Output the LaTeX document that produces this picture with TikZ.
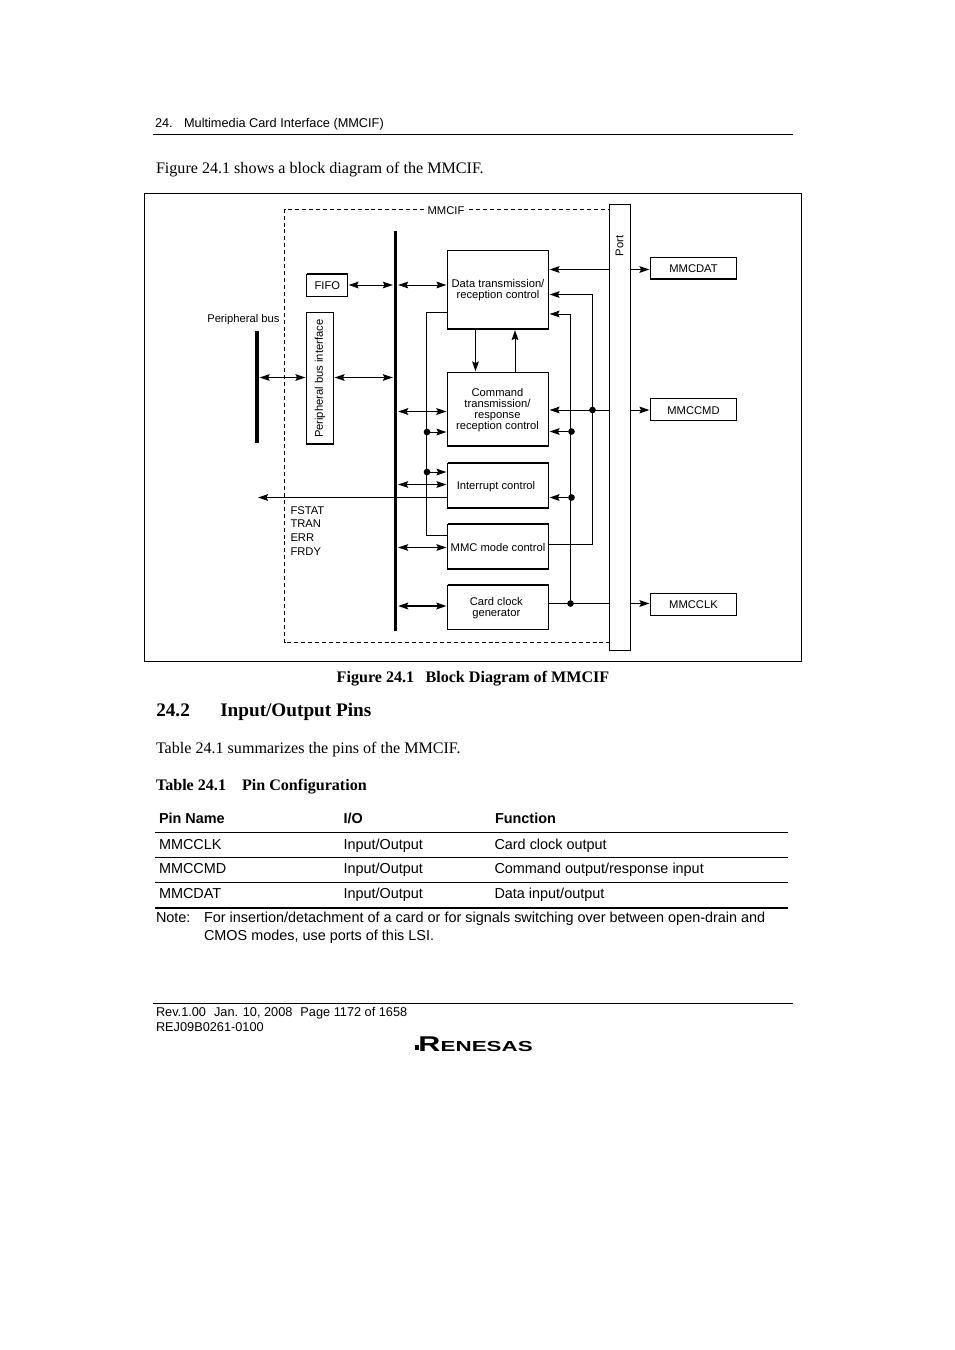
\documentclass[tikz,border=0pt]{standalone}
\usepackage{fontspec}
\setmainfont{Liberation Serif}
\newfontfamily\hv{Liberation Sans}
\usetikzlibrary{arrows.meta}
\tikzset{
  x=.75pt,y=-.75pt,
  lw/.style={line width=.75pt},
  blk/.style={draw=black,lw,rectangle,inner sep=0pt,outer sep=0pt,fill=white},
  bar/.style={fill=black,rectangle,inner sep=0pt,outer sep=0pt,minimum width=2.4pt},
  dotn/.style={fill=black,circle,inner sep=0pt,outer sep=0pt,minimum size=5pt},
  dlab/.style={font=\hv\fontsize{8.4}{8.3}\selectfont,inner sep=0pt,outer sep=0pt,align=center},
  sig/.style={lw,shorten >=.8pt},
  one/.style={sig,-{Stealth[length=7.5pt,width=5pt,inset=1.2pt]}},
  two/.style={lw,shorten >=.8pt,shorten <=.8pt,{Stealth[length=7.5pt,width=5pt,inset=1.2pt]}-{Stealth[length=7.5pt,width=5pt,inset=1.2pt]}},
  twoh/.style={two,line width=1.3pt},
  body/.style={font=\fontsize{12.07}{14}\selectfont,inner sep=0pt,outer sep=0pt,anchor=base west},
  bodyb/.style={font=\bfseries\fontsize{12.07}{14}\selectfont,inner sep=0pt,outer sep=0pt,anchor=base west},
  sans/.style={font=\hv\fontsize{10.82}{13}\selectfont,inner sep=0pt,outer sep=0pt,anchor=base west},
  sansb/.style={font=\hv\bfseries\fontsize{10.82}{13}\selectfont,inner sep=0pt,outer sep=0pt,anchor=base west},
  small/.style={font=\hv\fontsize{9.56}{11}\selectfont,inner sep=0pt,outer sep=0pt,anchor=base west},
  rule/.style={line width=.75pt},
  heavy/.style={line width=1.05pt},
}
\newcommand{\bx}[7]{% name x0 y0 x1 y1 text text-xshift
  \node[blk,minimum width={(#4-#2)*.75pt},minimum height={(#5-#3)*.75pt}] (#1) at ({(#2+#4)/2},{(#3+#5)/2}) {};
  \node[dlab] (#1t) at ([xshift=#7,yshift=-.6pt]#1.center) {#6};}
\begin{document}
\begin{tikzpicture}
\useasboundingbox (0,0) rectangle (954,1350);
% page furniture
\node[small] (hdr) at (155,127) {24.\hspace{8.5pt}Multimedia Card Interface (MMCIF)};
\draw[rule] (153,134.5) -- (793,134.5);
\node[body] (intro) at (156,173) {Figure 24.1 shows a block diagram of the MMCIF.};
% frame
\draw[lw] (144.5,193.5) rectangle (801.5,661.5);
% dashed boundary
\coordinate (dtl) at (284.5,209.5);
\coordinate (dbl) at (284.5,642.5);
\draw[lw,dash pattern=on 3pt off 2.2pt] (424,209.5) -- (dtl) -- (dbl) -- (609,642.5);
\draw[lw,dash pattern=on 3pt off 2.2pt] (469,209.5) -- (609,209.5);
\node[dlab] (mmcif) at (446,210.7) {MMCIF};
% bars
\node[bar,minimum height=300pt] (bus) at (395.5,431) {};
\node[bar,minimum height=84pt] (pbus) at (257,387) {};
\node[dlab,anchor=base east] (pblab) at (279.5,322) {Peripheral bus};
% blocks
\bx{fifo}{306.5}{274}{347.5}{296.5}{FIFO}{.3pt}
\bx{pbi}{306.5}{312}{333.5}{444}{\rotatebox{90}{Peripheral bus interface}}{0pt}
\bx{data}{447.5}{250.5}{548.5}{329}{Data transmission/\\reception control}{0pt}
\bx{cmd}{447.5}{372.5}{548.5}{446}{Command\\transmission/\\response\\reception control}{-.4pt}
\bx{intr}{447.5}{463}{548.5}{508}{Interrupt control}{-1.5pt}
\bx{mode}{447.5}{524}{548.5}{569}{MMC mode control}{0pt}
\bx{clk}{447.5}{585}{548.5}{629}{Card clock\\generator}{-1.3pt}
\bx{port}{609.5}{204.5}{630.5}{650}{}{0pt}
\node[dlab,rotate=90] (portlab) at (619.5,246) {Port};
\bx{pdat}{650.5}{257.5}{736.5}{279}{MMCDAT}{0pt}
\bx{pcmd}{650.5}{398.5}{736.5}{420.5}{MMCCMD}{0pt}
\bx{pclk}{650.5}{593.5}{736.5}{615}{MMCCLK}{0pt}
% heavier edges
\foreach \n in {data,cmd,intr,mode,fifo,pbi,pdat}{\draw[heavy] (\n.south west) -- (\n.south east);}
\foreach \n in {intr,mode,clk,fifo,pdat}{\draw[heavy] (\n.north west) -- (\n.north east);}
\draw[heavy] (pbi.north east) -- (pbi.south east);
% dots
\node[dotn] (a1) at (427,432) {};
\node[dotn] (a2) at (427,472) {};
\node[dotn] (b1) at (592.5,410) {};
\node[dotn] (c1) at (571.5,431.5) {};
\node[dotn] (c2) at (571.5,497.5) {};
\node[dotn] (c3) at (570.5,603.5) {};
% bus arrows left
\draw[two] (fifo.east |- 0,285) -- (bus.west |- 0,285);
\draw[two] (bus.east |- 0,285) -- (data.west |- 0,285);
\draw[two] (pbus.east |- 0,377.5) -- (pbi.west |- 0,377.5);
\draw[two] (pbi.east |- 0,377.5) -- (bus.west |- 0,377.5);
\draw[twoh] (bus.east |- 0,411.5) -- (cmd.west |- 0,411.5);
\draw[two] (bus.east |- 0,484.5) -- (intr.west |- 0,484.5);
\draw[two] (bus.east |- 0,547.5) -- (mode.west |- 0,547.5);
\draw[twoh] (bus.east |- 0,606) -- (clk.west |- 0,606);
% status out
\coordinate (fout) at (257,497.5);
\draw[one] (intr.west |- 0,497.5) -- (fout);
\node[dlab,anchor=base west] (flags) at (290.5,514) {FSTAT};
\node[dlab,anchor=base west] (f2) at (290.5,527) {TRAN};
\node[dlab,anchor=base west] (f3) at (290.5,541) {ERR};
\node[dlab,anchor=base west] (f4) at (290.5,555) {FRDY};
% internal mode bus
\draw[lw] (data.west |- 0,312.5) -- (426.5,312.5) -- (426.5,535.5) -- (mode.west |- 0,535.5);
\draw[one] (a1) -- (cmd.west |- a1);
\draw[one] (a2) -- (intr.west |- a2);
% data <-> cmd
\draw[one] (data.south -| 475.5,0) -- (cmd.north -| 475.5,0);
\draw[one] (cmd.north -| 515,0) -- (data.south -| 515,0);
% right side
\draw[one] (port.west |- 0,269.5) -- (data.east |- 0,269.5);
\draw[one] (mode.east |- 0,544) -- (592.5,544) -- (592.5,294.5) -- (data.east |- 0,294.5);
\draw[one] (c3) -- (570.5,314) -- (data.east |- 0,314);
\draw[one] (port.west |- b1) -- (cmd.east |- b1);
\draw[one] (c1) -- (cmd.east |- c1);
\draw[one] (c2) -- (intr.east |- c2);
\draw[lw] (clk.east |- c3) -- (port.west |- c3);
% port outs
\draw[one] (port.east |- 0,269.5) -- (pdat.west |- 0,269.5);
\draw[one] (port.east |- 0,410) -- (pcmd.west |- 0,410);
\draw[one] (port.east |- 0,603.5) -- (pclk.west |- 0,603.5);
% below figure
\node[bodyb,anchor=base] (cap) at (473,682.5) {Figure 24.1\hspace{8.5pt}Block Diagram of MMCIF};
\node[font=\bfseries\fontsize{14.4}{16}\selectfont,inner sep=0pt,anchor=base west] (secn) at (156,716) {24.2};
\node[font=\bfseries\fontsize{14.4}{16}\selectfont,inner sep=0pt,anchor=base west] (sect) at (220,716) {Input/Output Pins};
\node[body] (tintro) at (156,753) {Table 24.1 summarizes the pins of the MMCIF.};
\node[bodyb] (tcap) at (156,790) {Table 24.1\hspace{12pt}Pin Configuration};
% table
\node[sansb] (h1) at (159,823) {Pin Name};
\node[sansb] (h2) at (343.5,823) {I/O};
\node[sansb] (h3) at (495,823) {Function};
\draw[rule] (155,832.5) -- (788,832.5);
\node[sans] (r11) at (159,849) {MMCCLK};
\node[sans] (r12) at (343.5,849) {Input/Output};
\node[sans] (r13) at (494.5,849) {Card clock output};
\draw[rule] (155,857.5) -- (788,857.5);
\node[sans] (r21) at (159,873) {MMCCMD};
\node[sans] (r22) at (343.5,873) {Input/Output};
\node[sans] (r23) at (494.5,873) {Command output/response input};
\draw[rule] (155,882.5) -- (788,882.5);
\node[sans] (r31) at (159,898) {MMCDAT};
\node[sans] (r32) at (343.5,898) {Input/Output};
\node[sans] (r33) at (494.5,898) {Data input/output};
\draw[line width=1.3pt] (155,908) -- (788,908);
\node[sans] (n0) at (156,922) {Note:};
\node[sans] (n1) at (204,922) {For insertion/detachment of a card or for signals switching over between open-drain and};
\node[sans] (n2) at (204,940) {CMOS modes, use ports of this LSI.};
% footer
\draw[rule] (153,1003.5) -- (793,1003.5);
\node[small] (rev) at (156,1016.5) {Rev.1.00\hspace{6pt}Jan. 10, 2008\hspace{6pt}Page 1172 of 1658};
\node[small] (rej) at (156,1031.5) {REJ09B0261-0100};
\node[font=\hv\bfseries\fontsize{10}{10}\selectfont,inner sep=0pt,anchor=base west] (logo) at (418,1051.5) {\resizebox{16.5pt}{11pt}{R}\hspace{.3pt}\resizebox{69pt}{7.6pt}{ENESAS}};
\fill (415,1045) rectangle (419,1050);
\end{tikzpicture}
\end{document}
